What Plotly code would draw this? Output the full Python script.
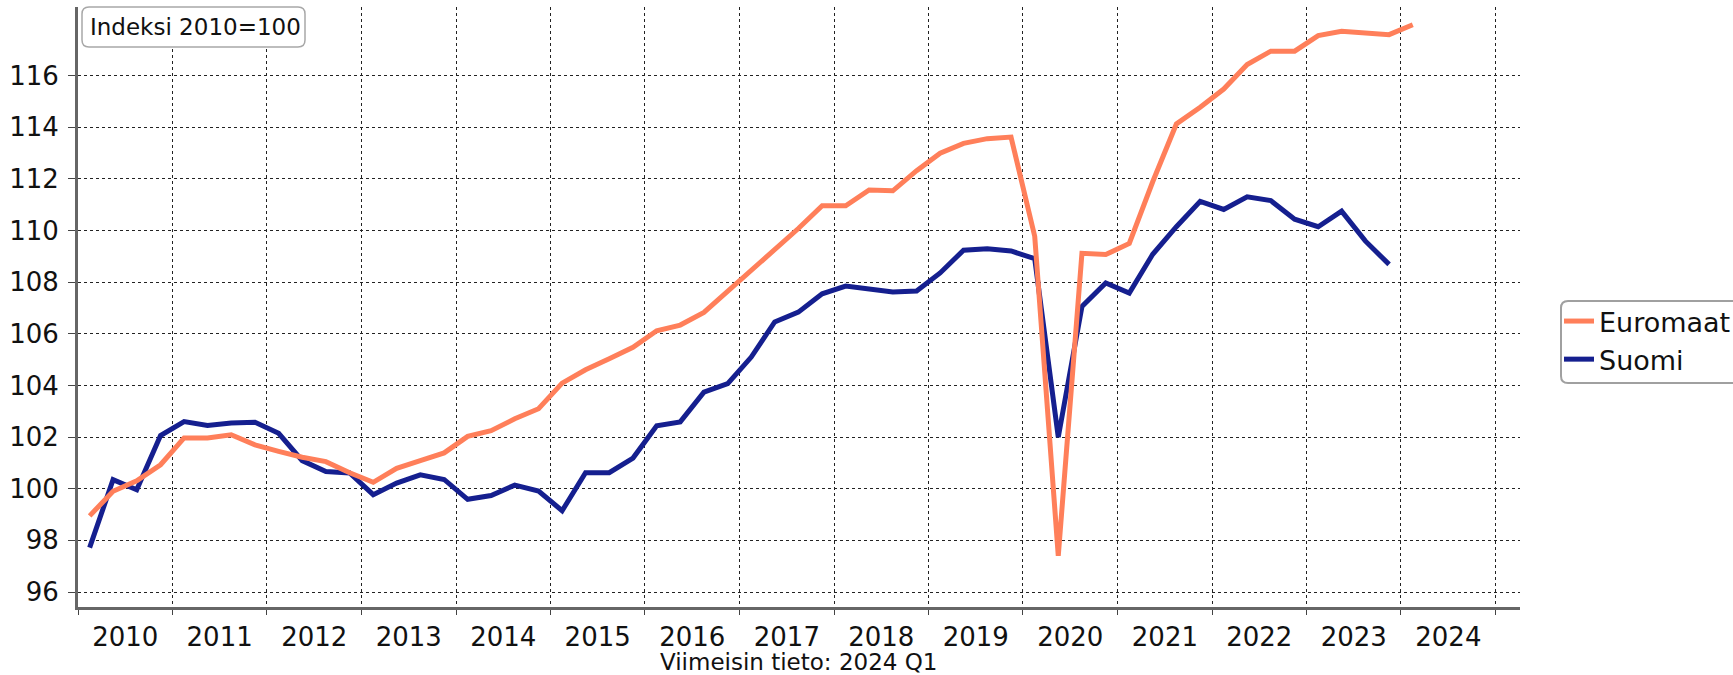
import pandas as pd
import plotly.graph_objects as go

# ---- data ----
quarters_euro = [f"{y}Q{q}" for y in range(2010, 2024) for q in range(1, 5)] + ["2024Q1"]
quarters_fin = [f"{y}Q{q}" for y in range(2010, 2024) for q in range(1, 5)]

euromaat = [
    98.95, 99.90, 100.31, 100.93,
    101.97, 101.97, 102.09, 101.70,
    101.45, 101.22, 101.05, 100.62,
    100.25, 100.79, 101.09, 101.39,
    102.03, 102.25, 102.71, 103.10,
    104.09, 104.61, 105.04, 105.48,
    106.12, 106.34, 106.83, 107.65,
    108.44, 109.24, 110.08, 110.96,
    110.96, 111.57, 111.54, 112.32,
    113.00, 113.38, 113.56, 113.62,
    109.78, 97.40, 109.12, 109.07,
    109.50, 111.89, 114.13, 114.78,
    115.48, 116.43, 116.95, 116.95,
    117.55, 117.72, 117.66, 117.59,
    117.97,
]

suomi = [
    97.72, 100.35, 99.96, 102.06,
    102.60, 102.45, 102.55, 102.58,
    102.15, 101.09, 100.67, 100.61,
    99.77, 100.22, 100.54, 100.36,
    99.59, 99.74, 100.14, 99.91,
    99.15, 100.62, 100.62, 101.19,
    102.44, 102.59, 103.74, 104.07,
    105.10, 106.46, 106.84, 107.55,
    107.85, 107.72, 107.62, 107.66,
    108.36, 109.24, 109.30, 109.21,
    108.91, 102.00, 107.06, 107.97,
    107.58, 109.08, 110.15, 111.13,
    110.82, 111.31, 111.16, 110.44,
    110.15, 110.75, 109.60, 108.69,
]

y_ticks = [96, 98, 100, 102, 104, 106, 108, 110, 112, 114, 116]

unit_label = "Indeksi 2010=100"
footer = "Viimeisin tieto: 2024 Q1"


def qmid(q):
    p = pd.Period(q, freq="Q")
    return p.start_time + (p.end_time - p.start_time) / 2


def rounded_rect(x0, y0, x1, y1, r):
    # pixel path; y grows upward in pixel sizemode
    return (f"M{x0 + r},{y0} L{x1 - r},{y0} Q{x1},{y0} {x1},{y0 - r} "
            f"L{x1},{y1 + r} Q{x1},{y1} {x1 - r},{y1} "
            f"L{x0 + r},{y1} Q{x0},{y1} {x0},{y1 + r} "
            f"L{x0},{y0 - r} Q{x0},{y0} {x0 + r},{y0} Z")


x_euro = [qmid(q) for q in quarters_euro]
x_fin = [qmid(q) for q in quarters_fin]

FONT = "Verdana, DejaVu Sans, sans-serif"
L, R, T, B = 78, 213, 7, 68
W, H = 1733, 675
PW = W - L - R
PH = H - T - B

fig = go.Figure()
fig.add_trace(go.Scatter(
    x=x_fin, y=suomi, name="Suomi", mode="lines",
    line=dict(color="#151f8f", width=5), legendrank=2,
))
fig.add_trace(go.Scatter(
    x=x_euro, y=euromaat, name="Euromaat", mode="lines",
    line=dict(color="#ff7f5a", width=5), legendrank=1,
))

legend_left_px = 1559
fig.update_layout(
    width=W, height=H,
    margin=dict(l=L, r=R, t=T, b=B, autoexpand=False),
    paper_bgcolor="white", plot_bgcolor="white",
    font=dict(family=FONT, size=26, color="#111"),
    showlegend=True,
    legend=dict(
        x=(legend_left_px - L) / PW, xanchor="left",
        y=(H - B - 297) / PH, yanchor="top",
        borderwidth=0, bgcolor="rgba(0,0,0,0)",
        font=dict(size=27, color="#111"), itemwidth=30,
        traceorder="normal",
    ),
)

fig.update_xaxes(
    type="date",
    range=["2010-01-01", "2025-04-05"],
    dtick="M12", tick0="2010-01-01",
    tickformat="%Y", ticklabelmode="period",
    showgrid=True, gridcolor="#222", griddash="dot", gridwidth=1,
    showline=True, linecolor="#666", linewidth=3,
    ticks="outside", ticklen=5, tickcolor="#444", tickwidth=1,
    tickfont=dict(size=26, color="#111"),
    zeroline=False,
)
fig.update_yaxes(
    range=[95.42, 118.66],
    tickvals=y_ticks, ticktext=[str(v) for v in y_ticks],
    showgrid=True, gridcolor="#222", griddash="dot", gridwidth=1,
    showline=True, linecolor="#666", linewidth=3,
    ticks="outside", ticklen=7, tickcolor="#444", tickwidth=1,
    tickfont=dict(size=26, color="#111"),
    ticklabelstandoff=4,
    zeroline=False,
)

# rounded box behind unit label
fig.add_shape(
    type="path", xref="paper", yref="paper",
    xsizemode="pixel", ysizemode="pixel", xanchor=0, yanchor=1,
    path=rounded_rect(4, 0, 227, -40, 7),
    line=dict(color="#a8a8a8", width=1.5), fillcolor="white", layer="above",
)
fig.add_annotation(
    text=unit_label, xref="paper", yref="paper",
    x=(88 - L) / PW, y=1 - 20 / PH,
    xanchor="left", yanchor="middle", showarrow=False,
    font=dict(size=23, color="#111", family=FONT),
)
# rounded legend box
fig.add_shape(
    type="path", xref="paper", yref="paper",
    xsizemode="pixel", ysizemode="pixel", xanchor=0, yanchor=0,
    path=rounded_rect(1561 - L, H - B - 301, 1745 - L, H - B - 383, 7),
    line=dict(color="#a0a0a0", width=2), fillcolor="white", layer="above",
)
fig.add_annotation(
    text=footer, xref="paper", yref="paper", x=0.5, y=-55 / PH,
    xanchor="center", yanchor="middle", showarrow=False,
    font=dict(size=23, color="#111", family=FONT),
)

fig.write_html(
    "out.html",
    config={"displayModeBar": False},
    post_script="document.body.style.margin='0px';",
)
